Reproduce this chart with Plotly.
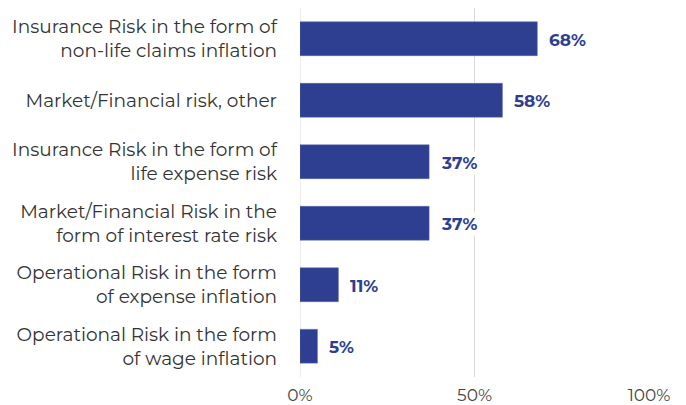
import plotly.graph_objects as go

categories = [
    "Insurance Risk in the form of<br>non-life claims inflation",
    "Market/Financial risk, other",
    "Insurance Risk in the form of<br>life expense risk",
    "Market/Financial Risk in the<br>form of interest rate risk",
    "Operational Risk in the form<br>of expense inflation",
    "Operational Risk in the form<br>of wage inflation",
]
values = [68, 58, 37, 37, 11, 5]
tick_vals = [0, 50, 100]
tick_text = ["0%", "50%", "100%"]

bar_color = "#2E3F91"
font_family = "Montserrat, 'Open Sans', Lato, sans-serif"

fig = go.Figure()
fig.add_trace(go.Bar(
    x=values,
    y=categories,
    orientation="h",
    marker=dict(color=bar_color, line=dict(color="#5a67a8", width=0.5)),
    hoverinfo="skip",
))

for c, v in zip(categories, values):
    fig.add_annotation(
        x=v, y=c, text=f"<b>{v}%</b>", showarrow=False,
        xanchor="left", xshift=10, yshift=-1,
        bgcolor="white", borderpad=1,
        font=dict(family=font_family, size=17, color=bar_color),
    )

fig.update_layout(
    width=686, height=405,
    margin=dict(l=300, r=37, t=8, b=28),
    paper_bgcolor="white", plot_bgcolor="white",
    bargap=0.45,
    showlegend=False,
    font=dict(family=font_family, size=18, color="#333333"),
    xaxis=dict(
        range=[0, 100], tickvals=tick_vals, ticktext=tick_text,
        showgrid=True, gridcolor="#d9d9d9", gridwidth=1,
        zeroline=False, showline=False, ticks="",
        tickfont=dict(size=17, color="#444444"),
        ticklabelstandoff=6, automargin=False,
        fixedrange=True,
    ),
    yaxis=dict(
        autorange="reversed", showgrid=False, zeroline=False, showline=False,
        ticks="", ticklabelstandoff=22, automargin=False,
        tickfont=dict(size=18.5, color="#333333"),
    ),
)
fig.add_shape(type="line", xref="x", yref="paper", x0=0, x1=0, y0=0, y1=1,
              line=dict(color="#d9d9d9", width=1), layer="below")

fig.write_html("out.html")
